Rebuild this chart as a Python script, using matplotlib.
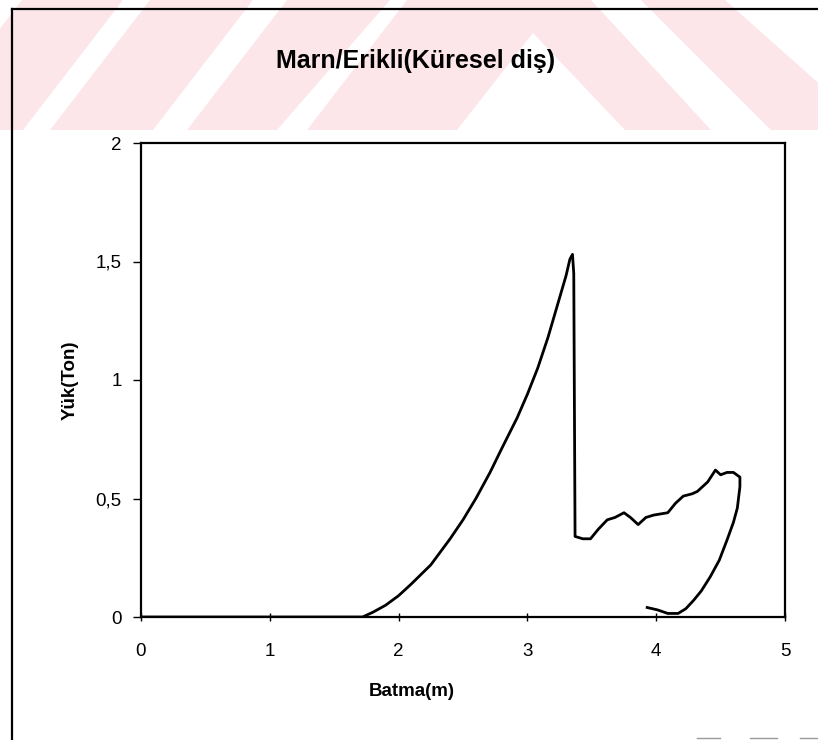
import numpy as np
import matplotlib
matplotlib.use("Agg")
import matplotlib.pyplot as plt
from matplotlib.patches import Polygon
from matplotlib.ticker import FuncFormatter

plt.rcParams['font.family'] = ['Liberation Sans', 'DejaVu Sans']

# load / penetration readings taken off the scanned chart
batma = [0.00, 1.72, 1.80, 1.90, 2.00, 2.10, 2.25, 2.40, 2.50, 2.60, 2.71, 2.80,
         2.92, 3.00, 3.08, 3.16, 3.23, 3.30, 3.33, 3.35, 3.36, 3.37, 3.43, 3.49,
         3.55, 3.62, 3.68, 3.75, 3.80, 3.86, 3.92, 3.98, 4.09, 4.15, 4.21, 4.28,
         4.32, 4.36, 4.40, 4.46, 4.50, 4.55, 4.60, 4.65, 4.65, 4.63, 4.60, 4.55,
         4.49, 4.42, 4.35, 4.29, 4.23, 4.17, 4.09, 4.01, 3.93]
yuk = [0.00, 0.00, 0.02, 0.05, 0.09, 0.14, 0.22, 0.33, 0.41, 0.50, 0.61, 0.71,
       0.84, 0.94, 1.05, 1.18, 1.31, 1.44, 1.51, 1.53, 1.45, 0.34, 0.33, 0.33,
       0.37, 0.41, 0.42, 0.44, 0.42, 0.39, 0.42, 0.43, 0.44, 0.48, 0.51, 0.52,
       0.53, 0.55, 0.57, 0.62, 0.60, 0.61, 0.61, 0.59, 0.55, 0.46, 0.40, 0.325,
       0.24, 0.17, 0.11, 0.07, 0.035, 0.015, 0.015, 0.03, 0.04]

x_ticks = [0, 1, 2, 3, 4, 5]
y_ticks = [0, 0.5, 1, 1.5, 2]

W, H = 818, 740
fig = plt.figure(figsize=(W / 100, H / 100), dpi=100)

# background: scan watermark stripes + page frame (pixel coords)
bg = fig.add_axes([0, 0, 1, 1])
bg.set_xlim(0, W)
bg.set_ylim(H, 0)
bg.axis('off')
pink = '#fce6ea'
stripes = [
    [(-78, 130), (23, 130), (123, 0), (22, 0)],
    [(50, 130), (153, 130), (253, 0), (150, 0)],
    [(187, 130), (277, 130), (390, 0), (287, 0)],
    [(307, 130), (457, 130), (533, 33), (625, 130), (711, 130), (591, 0), (407, 0)],
    [(771, 130), (860, 130), (860, 120), (725, 0), (641, 0)],
]
for s in stripes:
    bg.add_patch(Polygon(s, closed=True, facecolor=pink, edgecolor='none'))
bg.plot([12, 12], [9, H], color='black', lw=1.6)
bg.plot([12, W], [9, 9], color='black', lw=1.6)
for x0, x1 in [(697, 720), (750, 777), (800, 818)]:
    bg.plot([x0, x1], [738, 738], color='#999999', lw=1.0)

ax = fig.add_axes([141 / W, 123 / H, 644 / W, 474 / H])
ax.set_facecolor('white')
ax.plot(batma, yuk, color='black', lw=2.0, solid_joinstyle='round')

ax.set_xlim(0, 5)
ax.set_ylim(0, 2)
ax.set_xticks(x_ticks)
ax.set_yticks(y_ticks)
fmt = FuncFormatter(lambda v, p: f"{v:g}".replace('.', ','))
ax.xaxis.set_major_formatter(fmt)
ax.yaxis.set_major_formatter(fmt)
ax.tick_params(axis='x', direction='inout', length=6, width=1, pad=16, labelsize=13.5)
ax.tick_params(axis='y', direction='out', length=6, width=1, pad=8, labelsize=13.5)
for sp in ax.spines.values():
    sp.set_linewidth(1.6)

fig.text(416 / W, 1 - 61 / H, 'Marn/Erikli(Küresel diş)', ha='center', va='center',
         fontsize=18, fontweight='bold')
fig.text(412 / W, 1 - 692 / H, 'Batma(m)', ha='center', va='center',
         fontsize=13.5, fontweight='bold')
fig.text(70 / W, 1 - 380 / H, 'Yük(Ton)', ha='center', va='center',
         fontsize=13.5, fontweight='bold', rotation=90)

fig.savefig('out.png', dpi=100)
